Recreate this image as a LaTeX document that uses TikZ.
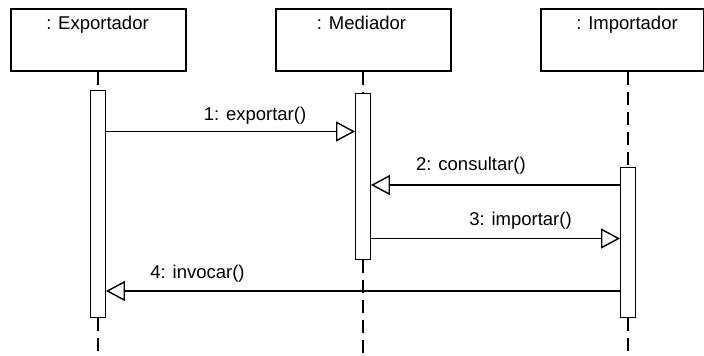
\documentclass[tikz,border=0pt]{standalone}
\usepackage{fontspec}
\setmainfont{Liberation Sans}
\usetikzlibrary{arrows.meta}
\begin{document}
\begin{tikzpicture}[x=1pt,y=-1pt,
  font=\fontsize{18.5}{22}\selectfont,
  objbox/.style={draw, line width=2pt, rectangle, inner sep=0pt, anchor=north west},
  actbar/.style={draw, fill=white, line width=1.4pt, rectangle, inner sep=0pt,
    minimum width=14.5pt, anchor=north},
  life/.style={line width=1.4pt, dash pattern=on 13pt off 7pt},
  msg/.style={line width=1.5pt, -{Triangle[open, length=19pt, width=20pt, line width=1.4pt]}},
  lbl/.style={inner sep=0pt, anchor=base}]
  \useasboundingbox (0,0) rectangle (704,356);
  \coordinate (bot) at (0,356);

  % object boxes
  \node[objbox, minimum width=175pt, minimum height=62pt] (exp) at (10,8) {};
  \node[objbox, minimum width=175pt, minimum height=62pt] (med) at (275,8) {};
  \node[objbox, minimum width=163pt, minimum height=62pt] (imp) at (540,8) {};
  \node[lbl] (expname) at (97.5,29) {: Exportador};
  \node[lbl] (medname) at (361.5,29) {: Mediador};
  \node[lbl] (impname) at (627,29) {: Importador};

  % activation bars
  \node[actbar, minimum height=226.5pt] (bexp) at (98,90) {};
  \node[actbar, minimum height=166pt] (bmed) at (363,93) {};
  \node[actbar, minimum height=149.5pt] (bimp) at (628,167) {};

  % lifelines
  \draw[life] (exp.south -| bexp.center) -- (bexp.north);
  \draw[life] (bexp.south) -- (bexp.south |- bot);
  \draw[life] (med.south -| bmed.center) -- (bmed.north);
  \draw[life] (bmed.south) -- (bmed.south |- bot);
  \draw[life] (imp.south -| bimp.center) -- (bimp.north);
  \draw[life] (bimp.south) -- (bimp.south |- bot);

  % message rows
  \coordinate (r1) at (0,131.5);
  \coordinate (r2) at (0,185);
  \coordinate (r3) at (0,238.5);
  \coordinate (r4) at (0,291);

  % messages
  \draw[msg] (bexp.east |- r1) -- (bmed.west |- r1);
  \draw[msg] (bimp.west |- r2) -- (bmed.east |- r2);
  \draw[msg] (bmed.east |- r3) -- (bimp.west |- r3);
  \draw[msg] (bimp.west |- r4) -- (bexp.east |- r4);

  % message labels
  \node[lbl] (l1) at (255,120.5) {1: exportar()};
  \node[lbl] (l2) at (471,170) {2: consultar()};
  \node[lbl] (l3) at (520.5,225) {3: importar()};
  \node[lbl] (l4) at (197.5,278.5) {4: invocar()};
\end{tikzpicture}
\end{document}
